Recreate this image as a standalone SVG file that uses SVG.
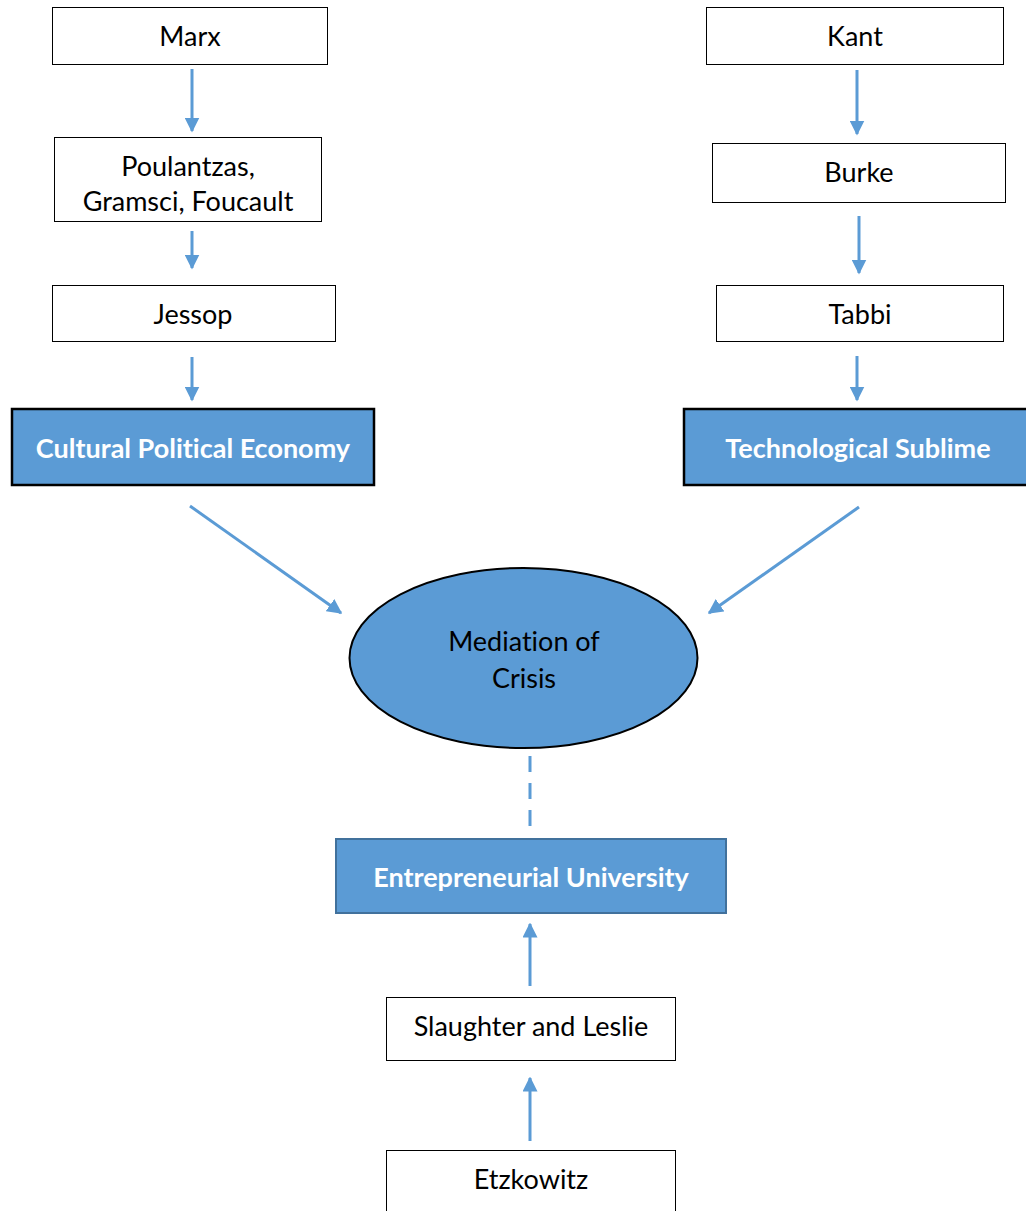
<svg xmlns="http://www.w3.org/2000/svg" width="1026" height="1211" viewBox="0 0 1026 1211">
<style>
.box{fill:#fff;stroke:#000;stroke-width:1}
.blue{fill:#5B9BD5;stroke:#000;stroke-width:2.5}
.blue2{fill:#5B9BD5;stroke:#41719C;stroke-width:2}
.t{font-family:Lato,"Liberation Sans",sans-serif;font-size:27px;fill:#000;text-anchor:middle;dominant-baseline:central;font-variant-ligatures:none}
.tb{font-family:Lato,"Liberation Sans",sans-serif;font-size:27px;font-weight:bold;fill:#fff;text-anchor:middle;dominant-baseline:central;font-variant-ligatures:none}
.c{stroke:#5B9BD5;stroke-width:3;fill:none}
</style>
<defs>
<marker id="ah" markerWidth="5" markerHeight="5" refX="4.5" refY="2.5" orient="auto" markerUnits="strokeWidth">
<path d="M0,0 L5,2.5 L0,5 Z" fill="#5B9BD5"/>
</marker>
</defs>
<g id="connectors">
<line class="c" x1="192" y1="69" x2="192" y2="131" marker-end="url(#ah)"/>
<line class="c" x1="192" y1="231" x2="192" y2="268" marker-end="url(#ah)"/>
<line class="c" x1="192" y1="357" x2="192" y2="400" marker-end="url(#ah)"/>
<line class="c" x1="857" y1="70" x2="857" y2="134" marker-end="url(#ah)"/>
<line class="c" x1="859" y1="216" x2="859" y2="273" marker-end="url(#ah)"/>
<line class="c" x1="857" y1="356" x2="857" y2="400" marker-end="url(#ah)"/>
<line class="c" x1="190" y1="506" x2="341" y2="613" marker-end="url(#ah)"/>
<line class="c" x1="859" y1="507" x2="709" y2="613" marker-end="url(#ah)"/>
<line class="c" x1="530" y1="756" x2="530" y2="828" stroke-dasharray="16 11"/>
<line class="c" x1="530" y1="986" x2="530" y2="924" marker-end="url(#ah)"/>
<line class="c" x1="530" y1="1141" x2="530" y2="1078" marker-end="url(#ah)"/>
</g>
<g id="marx"><rect class="box" x="52.5" y="7.5" width="275" height="57"/><text class="t" x="190" y="35">Marx</text></g>
<g id="poulantzas"><rect class="box" x="54.5" y="137.5" width="267" height="84"/><text class="t" x="188" y="165">Poulantzas,</text><text class="t" x="188" y="200">Gramsci, Foucault</text></g>
<g id="jessop"><rect class="box" x="52.5" y="285.5" width="283" height="56"/><text class="t" x="193" y="313">Jessop</text></g>
<g id="cpe"><rect class="blue" x="12" y="409" width="362" height="76"/><text class="tb" x="193" y="447">Cultural Political Economy</text></g>
<g id="kant"><rect class="box" x="706.5" y="7.5" width="297" height="57"/><text class="t" x="855" y="35">Kant</text></g>
<g id="burke"><rect class="box" x="712.5" y="143.5" width="293" height="59"/><text class="t" x="859" y="171">Burke</text></g>
<g id="tabbi"><rect class="box" x="716.5" y="285.5" width="287" height="56"/><text class="t" x="860" y="313">Tabbi</text></g>
<g id="ts"><rect class="blue" x="684" y="409" width="350" height="76"/><text class="tb" x="858" y="447">Technological Sublime</text></g>
<g id="mediation"><ellipse cx="523.5" cy="658" rx="174" ry="90" fill="#5B9BD5" stroke="#000" stroke-width="2"/><text class="t" x="524" y="640">Mediation of</text><text class="t" x="524" y="677">Crisis</text></g>
<g id="eu"><rect class="blue2" x="336" y="839" width="390" height="74"/><text class="tb" x="531" y="876">Entrepreneurial University</text></g>
<g id="slaughter"><rect class="box" x="386.5" y="997.5" width="289" height="63"/><text class="t" x="531" y="1025">Slaughter and Leslie</text></g>
<g id="etzkowitz"><rect class="box" x="386.5" y="1150.5" width="289" height="70"/><text class="t" x="531" y="1178">Etzkowitz</text></g>
</svg>
